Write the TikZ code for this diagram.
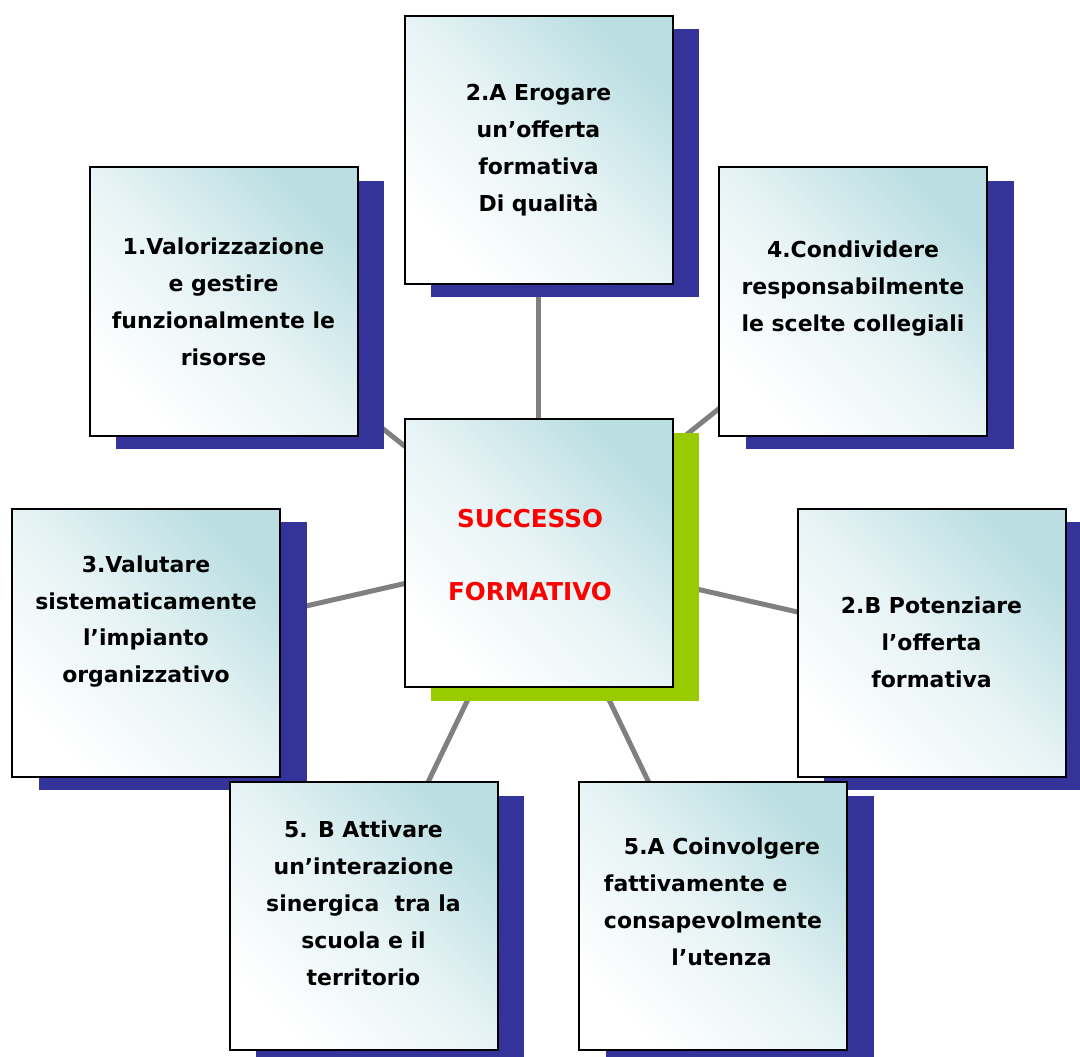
\documentclass[tikz,border=0pt]{standalone}
\usepackage{fontspec}
\setmainfont{DejaVu Sans}
\usetikzlibrary{shadows,backgrounds}
\definecolor{boxteal}{RGB}{186,222,226}
\definecolor{shadowblue}{RGB}{51,51,153}
\definecolor{shadowgreen}{RGB}{153,204,0}
\definecolor{linkgray}{RGB}{128,128,128}
\tikzset{
	basebox/.style={draw=black, line width=0.04cm, minimum size=5.36cm, inner sep=0pt,
		top color=boxteal, bottom color=white, middle color=boxteal!35, shading angle=-45},
	goalbox/.style={basebox, general shadow={fill=shadowblue, shadow xshift=0.53cm, shadow yshift=-0.27cm}},
	mainbox/.style={basebox, general shadow={fill=shadowgreen, shadow xshift=0.53cm, shadow yshift=-0.28cm}},
	goaltext/.style={align=center, font=\fontsize{12.5}{21}\selectfont\bfseries},
	maintext/.style={align=center, text=red, font=\fontsize{14}{21}\selectfont\bfseries},
	link/.style={draw=linkgray, line width=0.1cm}
}

\begin{document}
\begin{tikzpicture}
		%%%%% START %%%%%
		\useasboundingbox (0, 0) rectangle (21.6, -21.14);
		
		\node[mainbox] (succ) at (10.77, -11.06) {};
		\node[maintext] (tsucc) at (10.6, -11.1) {SUCCESSO\\[0.72cm]FORMATIVO};
		
		\node[goalbox] (b1) at (4.47, -6.03) {};
		\node[goaltext] (t1) at (b1) {1.Valorizzazione\\e gestire\\funzionalmente le\\risorse};
		
		\node[goalbox] (b2A) at (10.77, -3.0) {};
		\node[goaltext] (t2A) at (b2A) {2.A Erogare\\un’offerta\\formativa\\Di qualità};
		
		\node[goalbox] (b4) at (17.06, -6.03) {};
		\node[goaltext] (t4) at ([yshift=0.26cm]b4) {4.Condividere\\responsabilmente\\le scelte collegiali};
		
		\node[goalbox] (b3) at (2.92, -12.85) {};
		\node[goaltext] (t3) at ([yshift=0.42cm]b3) {3.Valutare\\sistematicamente\\l’impianto\\organizzativo};
		
		\node[goalbox] (b2B) at (18.63, -12.85) {};
		\node[goaltext] (t2B) at (b2B) {2.B Potenziare\\l’offerta\\formativa};
		
		\node[goalbox] (b5B) at (7.27, -18.32) {};
		\node[goaltext] (t5B) at ([yshift=0.26cm]b5B) {5. B Attivare\\un’interazione\\sinergica\ \ tra la\\scuola e il\\territorio};
		
		\node[goalbox] (b5A) at (14.26, -18.32) {};
		\node[goaltext, align=left] (t5A) at ([yshift=0.28cm]b5A) {\hspace{0.4cm}5.A Coinvolgere\\fattivamente e\\consapevolmente\\\hspace{1.35cm}l’utenza};
		
		% spokes behind the boxes
		\begin{scope}[on background layer]
		\draw[link] (succ.center) -- (b1.center);
		\draw[link] (succ.center) -- (b2A.center);
		\draw[link] (succ.center) -- (b4.center);
		\draw[link] (succ.center) -- (b3.center);
		\draw[link] (succ.center) -- (b2B.center);
		\draw[link] (succ.center) -- (b5B.center);
		\draw[link] (succ.center) -- (b5A.center);
		\end{scope}
		
		%%%%% END %%%%%
\end{tikzpicture}
\end{document}
